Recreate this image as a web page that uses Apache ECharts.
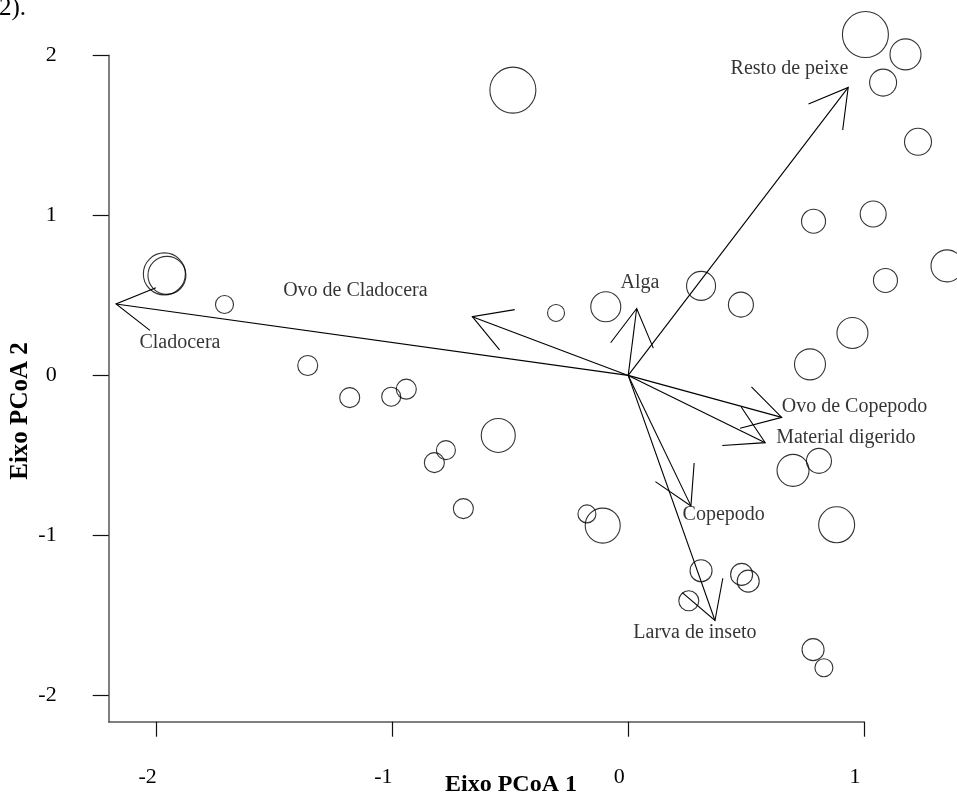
<!DOCTYPE html>
<html><head><meta charset="utf-8">
<script src="https://cdn.jsdelivr.net/npm/echarts@6/dist/echarts.min.js"></script>
<style>html,body{margin:0;padding:0;background:#fff}#c{width:957px;height:797px}</style>
</head><body><div id="c"></div>
<script>
// Site scores (PCoA axis 1, axis 2) and relative bubble magnitude
const siteX = [-0.489,-1.967,-1.956,-1.712,-0.306,-0.095,0.309,0.478,1.006,1.176,1.081,1.229,1.039,0.786,1.352,1.091,0.951,0.771,0.699,0.809,0.884,-0.108,-0.175,0.309,0.481,0.509,0.257,0.784,0.830,-1.359,-1.181,-1.005,-0.941,-0.551,-0.773,-0.822,-0.699];
const siteY = [1.782,0.634,0.625,0.443,0.390,0.429,0.559,0.442,2.129,2.005,1.829,1.459,1.008,0.963,0.684,0.593,0.265,0.069,-0.593,-0.534,-0.933,-0.938,-0.865,-1.220,-1.243,-1.285,-1.408,-1.713,-1.826,0.062,-0.139,-0.133,-0.086,-0.375,-0.467,-0.545,-0.832];
const siteMag = [4.6,4.2,3.8,1.8,1.7,3.0,2.9,2.5,4.6,3.1,2.7,2.7,2.6,2.4,3.2,2.4,3.1,3.1,3.2,2.5,3.6,3.5,1.8,2.2,2.2,2.2,2.0,2.2,1.8,2.0,2.0,1.9,2.0,3.4,1.9,2.0,2.0];
// Diet item vectors
const vecNames = ["Resto de peixe","Alga","Ovo de Cladocera","Cladocera","Ovo de Copepodo","Material digerido","Copepodo","Larva de inseto"];
const vecX = [0.933,0.036,-0.661,-2.172,0.651,0.581,0.266,0.368];
const vecY = [1.799,0.418,0.367,0.446,-0.262,-0.420,-0.815,-1.531];
const labX = [0.684,0.050,-1.157,-1.901,0.960,0.923,0.405,0.283];
const labY = [1.913,0.581,0.529,0.206,-0.194,-0.390,-0.869,-1.607];
const xTicks = [-2,-1,0,1];
const yTicks = [-2,-1,0,1,2];

const FONT = '"Liberation Serif","Times New Roman",serif';
const sites = siteX.map((x,i)=>[x, siteY[i], siteMag[i]]);
const vecs = vecX.map((x,i)=>[x, vecY[i]]);
const labs = vecNames.map((n,i)=>({name:n, value:[labX[i], labY[i]]}));

const chart = echarts.init(document.getElementById('c'), null, {renderer:'canvas'});
chart.setOption({
  backgroundColor:'#fff',
  animation:false,
  grid:{left:108.7, right:93, top:55.2, bottom:75.3, containLabel:false, outerBoundsMode:'none'},
  xAxis:{type:'value', min:-2.203, max:1, splitLine:{show:false},
    axisLine:{show:true, onZero:false, lineStyle:{color:'#555', width:1.5}},
    axisTick:{show:true, customValues:xTicks, length:15, lineStyle:{color:'#111', width:1.2}},
    axisLabel:{customValues:xTicks, margin:45, fontSize:22, fontFamily:FONT, color:'#000', padding:[0,18,0,0]}},
  yAxis:{type:'value', min:-2.163, max:2, splitLine:{show:false},
    axisLine:{show:true, onZero:false, lineStyle:{color:'#555', width:1.5}},
    axisTick:{show:true, customValues:yTicks, length:16, lineStyle:{color:'#111', width:1.2}},
    axisLabel:{customValues:yTicks, margin:52, fontSize:22, fontFamily:FONT, color:'#000'}},
  series:[
    {type:'scatter', data:sites, clip:false, symbol:'circle',
      symbolSize:v=>v[2]*10,
      itemStyle:{color:'rgba(0,0,0,0)', borderColor:'#000', borderWidth:1.1}},
    {type:'custom', data:vecs, clip:false,
      renderItem:(params, api)=>{
        const o = api.coord([0,0]);
        const t = api.coord([api.value(0), api.value(1)]);
        const ang = Math.atan2(o[1]-t[1], o[0]-t[0]);
        const L = 43, a = Math.PI/6;
        const h1 = [t[0]+L*Math.cos(ang+a), t[1]+L*Math.sin(ang+a)];
        const h2 = [t[0]+L*Math.cos(ang-a), t[1]+L*Math.sin(ang-a)];
        return {type:'group', children:[
          {type:'line', shape:{x1:o[0],y1:o[1],x2:t[0],y2:t[1]}, style:{stroke:'#000', lineWidth:1.1}},
          {type:'polyline', shape:{points:[h1,t,h2]}, style:{stroke:'#000', fill:null, lineWidth:1.1}}
        ]};
      }},
    {type:'scatter', data:labs, clip:false, symbolSize:0, silent:true,
      label:{show:true, position:'inside', formatter:'{b}', fontSize:20, fontFamily:FONT, color:'#000'}}
  ],
  graphic:[
    {type:'text', left:513-68, top:773, style:{text:'Eixo PCoA 1', fontSize:24, fontWeight:'bold', fontFamily:FONT, fill:'#000'}},
    {type:'text', x:21, y:411, rotation:Math.PI/2, style:{text:'Eixo PCoA 2', fontSize:25, fontWeight:'bold', fontFamily:FONT, fill:'#000', align:'center', verticalAlign:'middle', textAlign:'center', textVerticalAlign:'middle'}},
    {type:'text', x:-1, y:-4, style:{text:'2).', fontSize:25, fontFamily:FONT, fill:'#000'}}
  ]
});
</script></body></html>
